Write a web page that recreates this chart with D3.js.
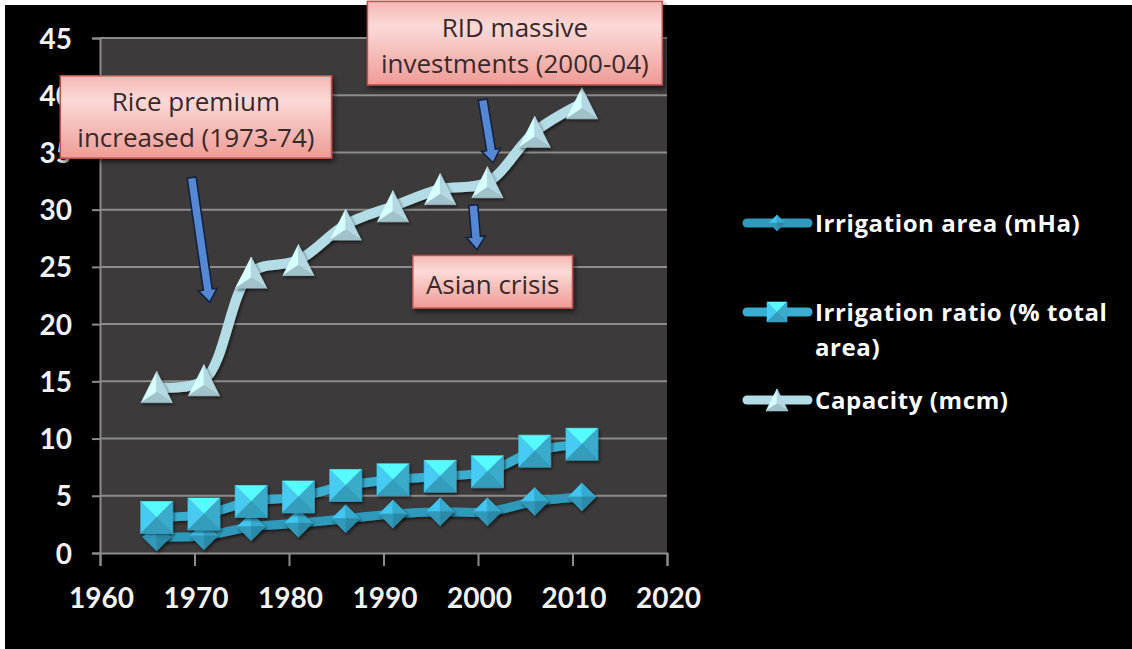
<!DOCTYPE html>
<html>
<head>
<meta charset="utf-8">
<script src="https://cdn.jsdelivr.net/npm/d3@7"></script>
<style>
  html, body { margin: 0; padding: 0; background: #fff; }
  svg { display: block; }
</style>
</head>
<body>
<svg id="chart" width="1132" height="649"></svg>
<script>
// ---- data ----
const years = [1966, 1971, 1976, 1981, 1986, 1991, 1996, 2001, 2006, 2011];
const irrigationArea  = [1.4, 1.5, 2.3, 2.6, 3.0, 3.4, 3.6, 3.6, 4.5, 4.9];
const irrigationRatio = [3.1, 3.4, 4.5, 4.9, 5.9, 6.4, 6.7, 7.1, 8.9, 9.5];
const capacity        = [14.5, 15.1, 24.5, 25.6, 28.7, 30.3, 31.8, 32.4, 36.8, 39.3];

const xTickValues = [1960, 1970, 1980, 1990, 2000, 2010, 2020];
const yTickValues = [0, 5, 10, 15, 20, 25, 30, 35, 40, 45];

const seriesNames = ["Irrigation area (mHa)", "Irrigation ratio (% total area)", "Capacity (mcm)"];
const legendLines = [["Irrigation area (mHa)"], ["Irrigation ratio (% total", "area)"], ["Capacity (mcm)"]];

// callouts, placed in data units
const calloutText = [
  ["Rice premium", "increased (1973-74)"],
  ["RID massive", "investments (2000-04)"],
  ["Asian crisis"]
];
const calloutX = [[1955.8, 1984.5], [1988.3, 2019.5], [1993.1, 2010.0]];
const calloutY = [[41.7, 34.5], [48.2, 40.9], [26.0, 21.4]];
const arrowFrom = [[1969.7, 32.8], [2000.5, 39.6], [1999.5, 30.4]];
const arrowTo   = [[1971.6, 21.9], [2001.6, 34.1], [1999.9, 26.5]];

// ---- layout ----
const W = 1132, H = 649;
const plot = { left: 100, right: 667, top: 38, bottom: 553 };
const TICK_FONT = "Lato, 'Open Sans', sans-serif";
const TEXT_FONT = "'Open Sans', Lato, sans-serif";

const x = d3.scaleLinear().domain([1960, 2020]).range([plot.left, plot.right]);
const y = d3.scaleLinear().domain([0, 45]).range([plot.bottom, plot.top]);

const svg = d3.select("#chart");
const defs = svg.append("defs");

// callout fill: pink with a paler band near the top
const pink = defs.append("linearGradient").attr("id", "pink")
  .attr("x1", 0).attr("y1", 0).attr("x2", 0).attr("y2", 1);
pink.append("stop").attr("offset", "0%").attr("stop-color", "#f4b7b3");
pink.append("stop").attr("offset", "30%").attr("stop-color", "#fbdad7");
pink.append("stop").attr("offset", "100%").attr("stop-color", "#ef9b96");

const shadow = defs.append("filter").attr("id", "shadow")
  .attr("x", "-30%").attr("y", "-30%").attr("width", "160%").attr("height", "160%");
shadow.append("feDropShadow").attr("dx", 1.5).attr("dy", 2).attr("stdDeviation", 1.8)
  .attr("flood-color", "#000").attr("flood-opacity", 0.55);

const boxShadow = defs.append("filter").attr("id", "boxShadow")
  .attr("x", "-10%").attr("y", "-20%").attr("width", "120%").attr("height", "150%");
boxShadow.append("feDropShadow").attr("dx", 2).attr("dy", 3).attr("stdDeviation", 2.5)
  .attr("flood-color", "#000").attr("flood-opacity", 0.6);

// ---- frame ----
svg.append("rect").attr("width", W).attr("height", H).attr("fill", "#ffffff");
svg.append("rect").attr("x", 5).attr("y", 5).attr("width", W - 5).attr("height", H - 5).attr("fill", "#000000");

// plot background
svg.append("rect")
  .attr("x", plot.left).attr("y", plot.top)
  .attr("width", plot.right - plot.left).attr("height", plot.bottom - plot.top)
  .attr("fill", "#3c3a3a");

// gridlines
svg.append("g").selectAll("line").data(yTickValues.filter(v => v > 0)).join("line")
  .attr("x1", plot.left).attr("x2", plot.right)
  .attr("y1", d => y(d)).attr("y2", d => y(d))
  .attr("stroke", "#8c8c8c").attr("stroke-width", 2);

// axes
const yAxis = svg.append("g")
  .attr("transform", `translate(${plot.left},0)`)
  .call(d3.axisLeft(y).tickValues(yTickValues).tickSize(8).tickPadding(20).tickFormat(d3.format("d")));
const xAxis = svg.append("g")
  .attr("transform", `translate(0,${plot.bottom})`)
  .call(d3.axisBottom(x).tickValues(xTickValues).tickSize(13).tickPadding(22).tickFormat(d3.format("d")));

[yAxis, xAxis].forEach(ax => {
  ax.select(".domain").attr("stroke", "#8c8c8c").attr("stroke-width", 2);
  ax.selectAll(".tick line").attr("stroke", "#8c8c8c").attr("stroke-width", 2);
  ax.selectAll(".tick text")
    .attr("fill", "#f2f2f2")
    .style("font-family", TICK_FONT).style("font-weight", "700").style("font-size", "28px");
});
yAxis.selectAll(".tick text").attr("dy", "0.36em");
xAxis.selectAll(".tick text").attr("dy", "0.71em").attr("dx", "1");

// ---- series ----
const seriesValues = [irrigationArea, irrigationRatio, capacity];
const lineColors   = ["#2f9abb", "#3aaed0", "#b3dce7"];
const markerColors = ["#34a3c6", "#3fb6da", "#b8dde7"];
const markerTypes  = ["diamond", "square", "triangle"];
const lineWidths   = [9, 9, 10];

function faces(type, s) {
  const h = s / 2;
  if (type === "square") {
    return [
      { pts: [[-h, -h], [h, -h], [0, 0]], k: 0.75 },
      { pts: [[-h, -h], [-h, h], [0, 0]], k: 0.25 },
      { pts: [[h, -h], [h, h], [0, 0]], k: -0.15 },
      { pts: [[-h, h], [h, h], [0, 0]], k: -0.35 }
    ];
  }
  if (type === "diamond") {
    return [
      { pts: [[0, -h], [-h, 0], [0, 0]], k: 0.45 },
      { pts: [[0, -h], [h, 0], [0, 0]], k: 0.1 },
      { pts: [[h, 0], [0, h], [0, 0]], k: -0.4 },
      { pts: [[-h, 0], [0, h], [0, 0]], k: -0.15 }
    ];
  }
  // triangle, apex up, centred on its bounding box
  const c = [0, h / 3];
  return [
    { pts: [[0, -h], [-h, h], c], k: 0.35 },
    { pts: [[0, -h], [h, h], c], k: -0.05 },
    { pts: [[-h, h], [h, h], c], k: -0.3 }
  ];
}

function drawMarker(g, type, size, color) {
  const base = d3.color(color);
  faces(type, size).forEach(f => {
    const col = f.k >= 0 ? base.brighter(f.k * 1.2) : base.darker(-f.k * 1.2);
    g.append("path")
      .attr("d", "M" + f.pts.map(p => p.join(",")).join("L") + "Z")
      .attr("fill", col.formatHex())
      .attr("stroke", col.formatHex())
      .attr("stroke-width", 0.6)
      .attr("stroke-linejoin", "round");
  });
}

const line = d3.line().curve(d3.curveCatmullRom.alpha(0.5));
const markerSizes = [28, 32, 31];

seriesValues.forEach((vals, i) => {
  const g = svg.append("g").attr("class", "series");
  const pts = years.map((yr, j) => [x(yr), y(vals[j])]);
  g.append("path")
    .attr("d", line(pts))
    .attr("fill", "none")
    .attr("stroke", lineColors[i])
    .attr("stroke-width", lineWidths[i])
    .attr("stroke-linejoin", "round")
    .attr("filter", "url(#shadow)");
  g.selectAll("g.marker").data(pts).join("g")
    .attr("class", "marker")
    .attr("transform", d => `translate(${d[0]},${d[1]})`)
    .attr("filter", "url(#shadow)")
    .each(function () { drawMarker(d3.select(this), markerTypes[i], markerSizes[i], markerColors[i]); });
});

// ---- callouts and arrows ----
function arrowPath(p0, p1, shaftHalf, headHalf, headLen) {
  const dx = p1[0] - p0[0], dy = p1[1] - p0[1];
  const len = Math.hypot(dx, dy);
  const ux = dx / len, uy = dy / len, nx = -uy, ny = ux;
  const b = len - headLen;
  const P = (a, o) => [p0[0] + ux * a + nx * o, p0[1] + uy * a + ny * o];
  const pts = [P(0, -shaftHalf), P(b, -shaftHalf), P(b, -headHalf), P(len, 0),
               P(b, headHalf), P(b, shaftHalf), P(0, shaftHalf)];
  return "M" + pts.map(p => p.join(",")).join("L") + "Z";
}

arrowFrom.forEach((from, i) => {
  svg.append("path")
    .attr("d", arrowPath([x(from[0]), y(from[1])], [x(arrowTo[i][0]), y(arrowTo[i][1])], 4.5, 9.5, 13))
    .attr("fill", "#5588d4")
    .attr("stroke", "#14223d")
    .attr("stroke-width", 1.6)
    .attr("stroke-linejoin", "miter");
});

calloutText.forEach((lines, i) => {
  const x0 = x(calloutX[i][0]), x1 = x(calloutX[i][1]);
  const y0 = y(calloutY[i][0]), y1 = y(calloutY[i][1]);
  const g = svg.append("g").attr("class", "callout");
  g.append("rect")
    .attr("x", x0).attr("y", y0).attr("width", x1 - x0).attr("height", y1 - y0)
    .attr("fill", "url(#pink)")
    .attr("stroke", "#c0504d").attr("stroke-width", 1.5)
    .attr("filter", "url(#boxShadow)");
  const cx = (x0 + x1) / 2, cy = (y0 + y1) / 2;
  lines.forEach((t, j) => {
    g.append("text")
      .attr("x", cx)
      .attr("y", cy + 12 + (j - (lines.length - 1) / 2) * 36)
      .attr("text-anchor", "middle")
      .attr("fill", "#3a2828")
      .style("font-family", TEXT_FONT).style("font-size", "26px")
      .text(t);
  });
});

// ---- legend ----
const legendY = [223, 312, 400];
const legendMarkerSizes = [16, 20, 22];
const legend = svg.append("g").attr("class", "legend");
seriesNames.forEach((name, i) => {
  const g = legend.append("g").attr("transform", `translate(0,${legendY[i]})`);
  g.append("line")
    .attr("x1", 747).attr("x2", 808).attr("y1", 0).attr("y2", 0)
    .attr("stroke", lineColors[i]).attr("stroke-width", 9).attr("stroke-linecap", "round");
  const m = g.append("g").attr("transform", "translate(777,0)");
  drawMarker(m, markerTypes[i], legendMarkerSizes[i], markerColors[i]);
  legendLines[i].forEach((t, j) => {
    g.append("text")
      .attr("x", 815).attr("y", 9 + j * 35)
      .attr("fill", "#ffffff")
      .style("font-family", TEXT_FONT).style("font-weight", "700").style("font-size", "24px")
      .style("letter-spacing", "0.6px")
      .text(t);
  });
});
</script>
</body>
</html>
